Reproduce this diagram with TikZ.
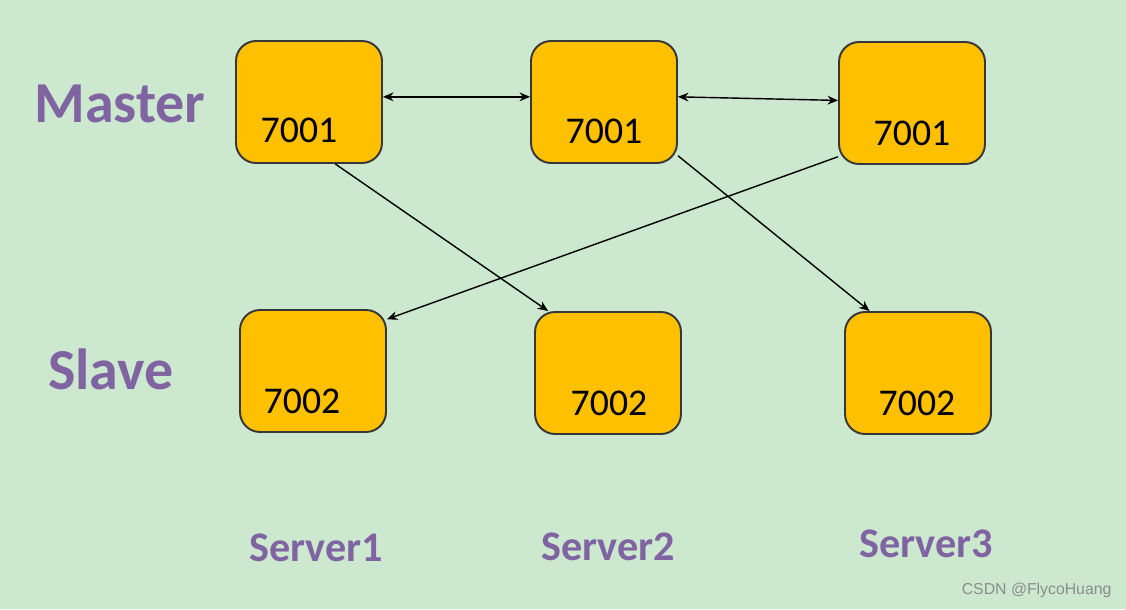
\documentclass[tikz,border=0pt]{standalone}
\usepackage{fontspec}
\setmainfont{Carlito}
\newfontfamily\markfont{Liberation Sans}
\usetikzlibrary{arrows.meta}

\definecolor{bggreen}{RGB}{204,232,207}
\definecolor{boxgold}{RGB}{255,192,0}
\definecolor{boxline}{RGB}{55,55,55}
\definecolor{rolepurple}{RGB}{128,100,162}
\definecolor{markgray}{RGB}{140,140,140}

\begin{document}
\begin{tikzpicture}[
    x = 0.02cm, y = -0.02cm,
    line width = 0.8pt,
    >={Stealth[length = 6pt, width = 5pt]},
    %
    server/.style = {draw = boxline, fill = boxgold,
      line width = 1.1pt,
      rounded corners = 0.4cm,
      minimum width = 2.92cm,
      minimum height = 2.44cm},
    port/.style = {font = \fontsize{21.5}{24}\selectfont},
    %
    role/.style = {rolepurple,
      font = \fontsize{33}{36}\selectfont\bfseries},
    host/.style = {rolepurple,
      font = \fontsize{24}{28}\selectfont\bfseries},
    watermark/.style = {markgray, anchor = east,
      font = \markfont\fontsize{9}{11}\selectfont},
    ]

    \fill [bggreen] (0, 0) rectangle (1126, 609);
    \useasboundingbox (0, 0) rectangle (1126, 609);

    \node at (120, 104) [role, name = master] {Master};
    \node at (111, 369) [role, name = slave] {Slave};

    \node at (309, 102) [server, name = M_1] {};
    \node at (604, 102) [server, name = M_2] {};
    \node at (912, 103) [server, name = M_3] {};

    \node at (313, 371) [server, name = S_1] {};
    \node at (608, 373) [server, name = S_2] {};
    \node at (918, 373) [server, name = S_3] {};

    \node at (299, 130) [port, name = M_1_port] {7001};
    \node at (604, 131) [port, name = M_2_port] {7001};
    \node at (912, 133) [port, name = M_3_port] {7001};

    \node at (302, 401) [port, name = S_1_port] {7002};
    \node at (609, 403) [port, name = S_2_port] {7002};
    \node at (917, 403) [port, name = S_3_port] {7002};

    \node at (316, 548) [host, name = server_1] {Server1};
    \node at (608, 547) [host, name = server_2] {Server2};
    \node at (926, 544) [host, name = server_3] {Server3};

    \draw [<->] (M_1.4) to (M_2.176);
    \draw [<->] (M_2.4) to (M_3.178);

    \draw [->] (M_1.293) to (S_2.134);
    \draw [->] (M_3.216) to (S_1.35);
    \draw [->] (M_2.324) to (S_3.128);

    \node at (1118, 590) [watermark, name = csdn] {CSDN @FlycoHuang};

  \end{tikzpicture}
\end{document}
